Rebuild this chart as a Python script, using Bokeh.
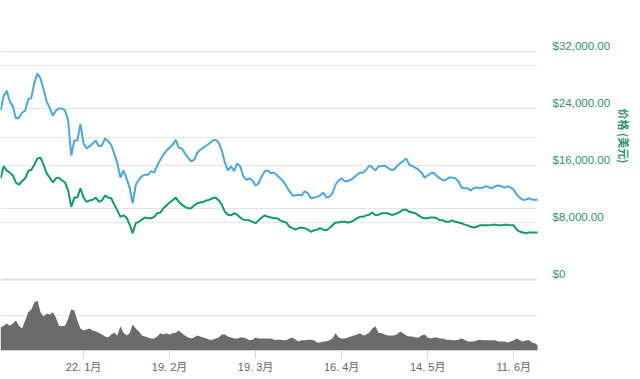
import pandas as pd
from bokeh.plotting import figure
from bokeh.models import Range1d, FixedTicker, Grid, Title, LinearAxis
from bokeh.embed import file_html
from bokeh.resources import INLINE

dates = pd.date_range("2017-12-26", periods=176, freq="D")

price_blue = [
    23700, 25800, 26500, 25000, 24300, 22600, 22700, 23400, 23700, 25300,
    25500, 27600, 28900, 28200, 26700, 25000, 24100, 23000, 23700, 24000,
    24000, 23700, 22300, 17400, 19500, 19500, 21800, 19100, 18400, 18700,
    19100, 19500, 18700, 18800, 19800, 19400, 18900, 17700, 16300, 14300,
    15300, 14200, 12900, 10700, 13300, 14000, 14500, 14700, 14700, 15200,
    15000, 16000, 16800, 17500, 18100, 18500, 18900, 19600, 18500, 18400,
    17700, 17100, 16600, 16800, 17800, 18200, 18500, 18800, 19100, 19500,
    19600, 19200, 18100, 16400, 15300, 15900, 15200, 16300, 15900, 14500,
    14000, 14200, 13900, 13200, 13500, 14500, 15200, 15300, 14900, 15000,
    14600, 14200, 13800, 13100, 12400, 11800, 11800, 11900, 11800, 12400,
    12100, 11400, 11500, 11600, 11800, 12200, 11500, 11600, 12100, 13300,
    13900, 14200, 13800, 13800, 14000, 14300, 14700, 15000, 15000, 15400,
    16000, 15700, 15300, 15900, 15900, 16000, 15700, 15400, 15400, 15900,
    16300, 16600, 17000, 16100, 15900, 15700, 15400, 15000, 14300, 14600,
    14900, 15000, 14500, 14200, 13900, 14000, 14300, 14300, 14200, 13800,
    12900, 12800, 12800, 12500, 12800, 12900, 12800, 12900, 13100, 12900,
    12800, 13100, 13200, 13100, 12900, 13100, 12900, 12600, 11900, 11500,
    11200, 11200, 11400, 11200, 11200, 11200,
]

price_green = [
    14200, 15900, 15300, 15000, 14600, 13600, 13300, 13800, 14200, 15200,
    15400, 16100, 17000, 17100, 16100, 14900, 14300, 13600, 14200, 14300,
    13900, 13600, 12500, 10200, 11500, 11500, 12800, 11500, 10900, 11100,
    11200, 11500, 10900, 11100, 11800, 11500, 11400, 10500, 9700, 8800,
    9000, 8700, 7700, 6500, 7900, 8100, 8400, 8700, 8600, 8600,
    8800, 9300, 9400, 10000, 10400, 10800, 11100, 11500, 10900, 10500,
    10200, 10000, 10000, 10400, 10700, 10800, 10900, 11100, 11200, 11400,
    11500, 11100, 10500, 9500, 9100, 9000, 9300, 9100, 8700, 8400,
    8300, 8300, 8100, 7900, 8300, 8700, 9000, 8800, 8700, 8600,
    8600, 8300, 8100, 8000, 7400, 7200, 7000, 7200, 7300, 7200,
    7000, 6700, 6900, 7000, 7200, 7000, 6900, 7200, 7600, 8000,
    8000, 8100, 8100, 8000, 8100, 8300, 8600, 8800, 8800, 9000,
    9100, 9400, 9000, 9100, 9300, 9300, 9300, 9100, 9100, 9300,
    9500, 9800, 9800, 9500, 9400, 9300, 9000, 8700, 8600, 8600,
    8700, 8700, 8600, 8300, 8300, 8100, 8100, 8300, 8100, 8000,
    7900, 7700, 7600, 7400, 7300, 7400, 7600, 7600, 7600, 7600,
    7700, 7700, 7600, 7600, 7700, 7700, 7600, 7600, 7000, 6700,
    6600, 6500, 6600, 6600, 6600, 6600,
]

volume_b = [
    6.6, 7.1, 7.7, 7.1, 7.7, 8.6, 7.1, 6.3, 8.6, 10.9,
    11.7, 13.7, 14.3, 10.9, 9.7, 10.6, 10.3, 10.9, 9.4, 7.1,
    6.9, 7.1, 9.1, 11.7, 11.4, 8.6, 6.3, 5.7, 6.0, 6.3,
    5.7, 5.4, 5.1, 4.6, 4.0, 3.7, 4.6, 5.1, 4.3, 6.9,
    5.1, 4.3, 4.9, 7.4, 6.3, 5.4, 4.3, 4.0, 3.7, 3.4,
    3.4, 4.0, 4.9, 4.6, 4.9, 4.6, 4.9, 5.1, 5.7, 4.9,
    4.3, 3.7, 3.4, 3.7, 4.3, 4.0, 3.7, 3.4, 3.1, 3.1,
    3.4, 3.7, 4.6, 4.6, 4.0, 3.7, 3.4, 3.4, 3.7, 3.7,
    3.4, 2.9, 3.1, 3.7, 3.4, 3.4, 3.4, 3.4, 3.4, 3.1,
    3.1, 3.1, 2.9, 2.9, 3.4, 3.7, 3.1, 2.6, 2.9, 2.9,
    3.1, 3.1, 2.9, 2.3, 2.3, 2.6, 2.6, 2.9, 3.4, 4.9,
    3.7, 3.4, 3.4, 3.7, 4.0, 4.3, 4.6, 4.9, 4.3, 4.6,
    5.1, 6.3, 6.9, 5.1, 4.9, 4.6, 4.3, 4.3, 4.3, 4.6,
    5.4, 4.9, 4.3, 4.0, 4.0, 3.7, 3.7, 4.3, 4.6, 3.7,
    3.4, 3.7, 3.7, 3.4, 3.4, 3.1, 3.1, 2.9, 2.9, 3.1,
    3.4, 3.1, 2.6, 2.6, 2.6, 2.9, 3.1, 2.9, 2.9, 2.9,
    2.9, 2.9, 2.6, 2.6, 2.6, 2.3, 2.6, 2.9, 3.4, 2.9,
    2.6, 2.9, 2.9, 2.3, 2.0, 1.4,
]

x_tick_dates = ["2018-01-22", "2018-02-19", "2018-03-19", "2018-04-16", "2018-05-14", "2018-06-11"]
x_tick_labels = ["22. 1月", "19. 2月", "19. 3月", "16. 4月", "14. 5月", "11. 6月"]
price_ticks = [0, 8000, 16000, 24000, 32000]
price_tick_labels = ["$0", "$8,000.00", "$16,000.00", "$24,000.00", "$32,000.00"]
volume_grid_ticks = [10]
price_title = "价格 (美元)"

BLUE = "#4aa8da"
GREEN = "#109a68"
LABEL_GREEN = "#2f9270"
GRID = "#e6e6e6"
LABEL_FONT = "'Liberation Sans', 'Noto Sans CJK SC', sans-serif"

# layout constants (pixels / axis extents)
FRAME_W, FRAME_H = 537, 350
PRICE_LO, PRICE_HI = -9965, 39158
LABEL_SHIFT = 842  # price units ~ 6 px, lifts labels above their grid lines

origin = pd.Timestamp("2017-12-25")
x_range = Range1d(origin + pd.Timedelta(days=0.977), origin + pd.Timedelta(days=175.74))

p = figure(
    x_axis_type="datetime",
    frame_width=FRAME_W, frame_height=FRAME_H,
    x_range=x_range,
    y_range=Range1d(PRICE_LO, PRICE_HI),
    y_axis_location=None,
    output_backend="svg",
    toolbar_location=None,
    min_border=0,
)
p.outline_line_color = None
p.background_fill_color = "white"
p.extra_y_ranges = {
    "vol": Range1d(0, 100),
    "lab": Range1d(PRICE_LO - LABEL_SHIFT, PRICE_HI - LABEL_SHIFT),
}

# volume
p.varea(x=dates, y1=0, y2=volume_b, y_range_name="vol", fill_color="#6b6b6b", fill_alpha=1.0)

# price lines
p.line(dates, price_blue, line_color=BLUE, line_width=2)
p.line(dates, price_green, line_color=GREEN, line_width=2)

# grids
p.xgrid.visible = False
price_grid = Grid(dimension=1, ticker=FixedTicker(ticks=price_ticks[1:]), grid_line_color=GRID)
zero_grid = Grid(dimension=1, ticker=FixedTicker(ticks=price_ticks[:1]), grid_line_color="#e0e0e0", grid_line_width=2)
vol_grid = Grid(dimension=1, y_range_name="vol", ticker=FixedTicker(ticks=volume_grid_ticks), grid_line_color=GRID)
for g in (price_grid, zero_grid, vol_grid):
    p.add_layout(g)

# right price axis (labels sit just above their grid lines)
ya = LinearAxis(y_range_name="lab")
ya.ticker = FixedTicker(ticks=price_ticks)
ya.major_label_overrides = {t: l for t, l in zip(price_ticks, price_tick_labels)}
ya.axis_line_color = None
ya.major_tick_line_color = None
ya.minor_tick_line_color = None
ya.major_tick_out = 0
ya.major_tick_in = 0
ya.major_label_standoff = 15
ya.major_label_text_color = LABEL_GREEN
ya.major_label_text_font = LABEL_FONT
ya.major_label_text_font_size = "11.5px"
p.add_layout(ya, "right")

# bottom date axis
tick_ms = [int(pd.Timestamp(d).value // 10**6) for d in x_tick_dates]
xa = p.xaxis[0]
xa.ticker = FixedTicker(ticks=tick_ms)
xa.major_label_overrides = {t: l for t, l in zip(tick_ms, x_tick_labels)}
xa.axis_line_color = "#ccd6eb"
xa.major_tick_line_color = "#ccd6eb"
xa.minor_tick_line_color = None
xa.major_tick_out = 8
xa.major_tick_in = 0
xa.major_label_standoff = 2
xa.major_label_text_color = "#666666"
xa.major_label_text_font = LABEL_FONT
xa.major_label_text_font_size = "11px"

p.add_layout(Title(text=price_title, align="left", offset=108, text_color=LABEL_GREEN,
                   text_font="'Noto Sans CJK SC', sans-serif", text_font_size="11px",
                   text_font_style="bold", standoff=4), "right")

html = file_html(p, INLINE)
with open("out.html", "w", encoding="utf-8") as f:
    f.write(html)
